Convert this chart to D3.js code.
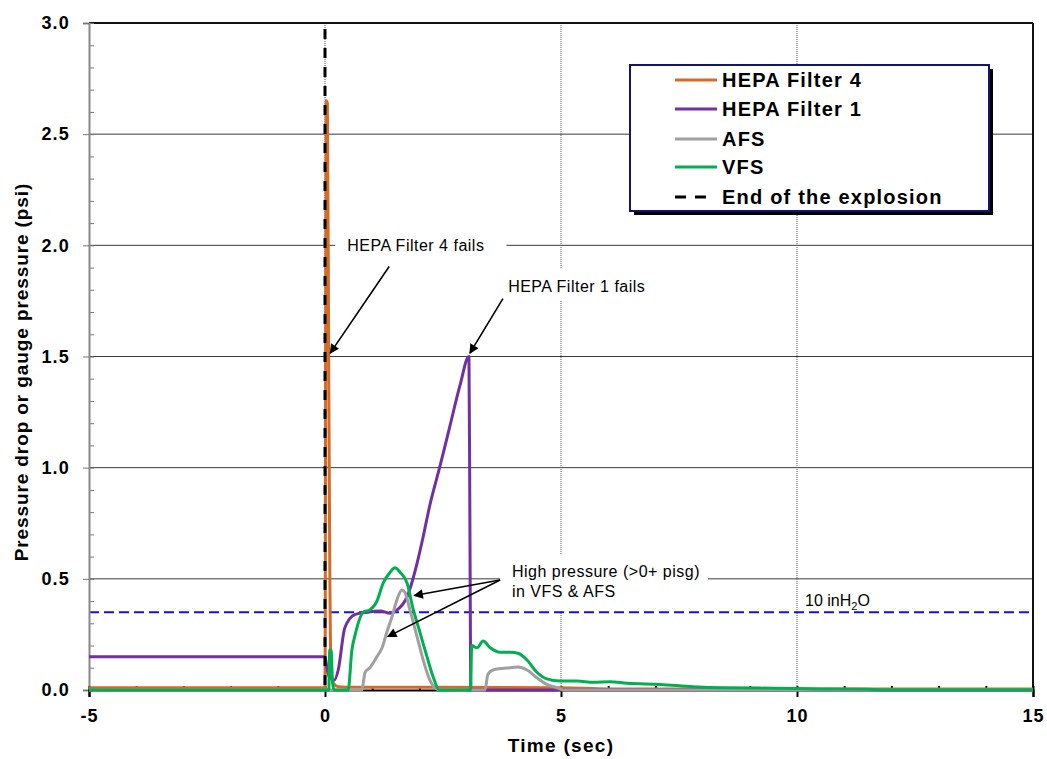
<!DOCTYPE html>
<html>
<head>
<meta charset="utf-8">
<script src="https://cdn.jsdelivr.net/npm/d3@7"></script>
<style>
  html, body { margin: 0; padding: 0; background: #fff; }
  svg { display: block; font-family: "Liberation Sans", Arial, sans-serif; }
</style>
</head>
<body>
<svg id="chart" width="1047" height="759"></svg>
<script>
// ---------------- DATA ----------------
const xTickValues = [-5, 0, 5, 10, 15];
const yTickValues = [0, 0.5, 1.0, 1.5, 2.0, 2.5, 3.0];

const hepa4Time = [-5, 0, 0.025, 0.05, 0.08, 0.1, 0.13, 0.18, 0.28, 0.6, 2, 5, 6, 15];
const hepa4Val  = [0.01, 0.01, 2.65, 2.64, 1.4, 0.6, 0.08, 0.03, 0.015, 0.012, 0.012, 0.01, 0.005, 0.005];

const hepa1Time = [-5, 0, 0.04, 0.1, 0.2, 0.28, 0.42, 0.64, 0.89, 1.17, 1.38, 1.53, 1.74, 1.95, 2.06, 2.22, 2.44, 2.65, 2.86, 3.05, 3.07, 3.09, 15];
const hepa1Val  = [0.15, 0.15, 0.10, 0.055, 0.045, 0.09, 0.28, 0.34, 0.35, 0.355, 0.345, 0.36, 0.42, 0.57, 0.67, 0.83, 1.01, 1.19, 1.37, 1.50, 0.75, 0.0, 0.0];

const afsTime = [-5, 0.78, 0.85, 0.95, 1.10, 1.21, 1.31, 1.42, 1.53, 1.63, 1.69, 1.80, 1.95, 2.08, 2.22, 2.33, 2.45, 3.39, 3.45, 3.56, 3.92, 4.09, 4.28, 4.49, 4.70, 4.92, 5.04, 15];
const afsVal  = [0, 0, 0.08, 0.10, 0.15, 0.19, 0.26, 0.33, 0.41, 0.45, 0.44, 0.36, 0.24, 0.135, 0.045, 0.01, 0, 0, 0.07, 0.09, 0.10, 0.103, 0.09, 0.055, 0.025, 0.01, 0, 0];

const vfsTime = [-5, 0.08, 0.1, 0.13, 0.16, 0.2, 0.49, 0.57, 0.64, 0.81, 0.95, 1.10, 1.23, 1.38, 1.48, 1.59, 1.74, 1.86, 2.01, 2.16, 2.29, 2.42, 3.08, 3.11, 3.22, 3.35, 3.5, 3.71, 3.92, 4.09, 4.28, 4.49, 4.70, 4.98, 5.34, 5.68, 6.04, 6.4, 7.1, 7.8, 8.5, 9.5, 10.5, 11.5, 12, 15];
const vfsVal  = [0, 0, 0.18, 0.18, 0.03, 0, 0, 0.18, 0.25, 0.35, 0.36, 0.40, 0.48, 0.53, 0.55, 0.53, 0.48, 0.37, 0.26, 0.15, 0.06, 0, 0, 0.20, 0.19, 0.22, 0.19, 0.17, 0.17, 0.165, 0.135, 0.08, 0.05, 0.04, 0.04, 0.035, 0.037, 0.03, 0.025, 0.015, 0.01, 0.008, 0.005, 0.003, 0, 0];

const explosionEndTime = 0;
const thresholdValue = 0.35;   // 10 inH2O

const seriesNames  = ["HEPA Filter 4", "HEPA Filter 1", "AFS", "VFS", "End of the explosion"];
const seriesColors = ["#D46B26", "#7030A0", "#A0A0A0", "#00B050", "#000000"];

// ---------------- SETUP ----------------
const svg = d3.select("#chart");
const x = d3.scaleLinear().domain([-5, 15]).range([89, 1033]);
const y = d3.scaleLinear().domain([0, 3]).range([690, 23]);

const FONT = '"Liberation Sans", Arial, sans-serif';

// grid lines (horizontal)
svg.append("g").selectAll("line").data(yTickValues.filter(v => v > 0 && v < 3)).join("line")
  .attr("x1", x(-5)).attr("x2", x(15)).attr("y1", d => y(d)).attr("y2", d => y(d))
  .attr("stroke", "#3a3a3a").attr("stroke-width", 1);

// vertical dotted grid lines
svg.append("g").selectAll("line").data([0, 5, 10]).join("line")
  .attr("x1", d => x(d)).attr("x2", d => x(d)).attr("y1", y(3)).attr("y2", y(0))
  .attr("stroke", "#555").attr("stroke-width", 1).attr("stroke-dasharray", "1,1");

// threshold line
svg.append("line")
  .attr("x1", x(-5)).attr("x2", x(15)).attr("y1", y(thresholdValue)).attr("y2", y(thresholdValue))
  .attr("stroke", "#1414CC").attr("stroke-width", 2).attr("stroke-dasharray", "10,5");

// top and right border
svg.append("line").attr("x1", x(-5)).attr("x2", x(15)).attr("y1", y(3)).attr("y2", y(3))
  .attr("stroke", "#111").attr("stroke-width", 2);
svg.append("line").attr("x1", x(15)).attr("x2", x(15)).attr("y1", y(3)).attr("y2", y(0))
  .attr("stroke", "#111").attr("stroke-width", 2);

// ---------------- SERIES ----------------
const line = d3.line().x(d => x(d[0])).y(d => y(d[1])).curve(d3.curveMonotoneX);
const zip = (a, b) => a.map((t, i) => [t, b[i]]);

const seriesData = [
  zip(hepa4Time, hepa4Val),
  zip(hepa1Time, hepa1Val),
  zip(afsTime, afsVal),
  zip(vfsTime, vfsVal)
];

// axes first (under the lines)
const yAxisMinor = d3.axisLeft(y).tickValues(d3.range(0, 31).map(i => i / 10)).tickSize(-5).tickFormat("");
svg.append("g").attr("transform", `translate(${x(-5)},0)`).call(yAxisMinor)
  .call(g => g.select(".domain").remove())
  .call(g => g.selectAll("line").attr("stroke", "#777"));

const yAxis = d3.axisLeft(y).tickValues(yTickValues).tickFormat(d3.format(".1f")).tickSize(6).tickPadding(13);
svg.append("g").attr("transform", `translate(${x(-5)},0)`).call(yAxis)
  .call(g => g.select(".domain").attr("stroke", "#888").attr("stroke-width", 2))
  .call(g => g.selectAll(".tick line").attr("stroke", "#777"))
  .call(g => g.selectAll("text").attr("font-family", FONT).attr("font-size", 18)
     .attr("font-weight", "bold").attr("fill", "#000").attr("letter-spacing", 1.2));

const xAxisMinor = d3.axisBottom(x).tickValues(d3.range(-5, 16)).tickSize(-4).tickFormat("");
svg.append("g").attr("transform", `translate(0,${y(0)})`).call(xAxisMinor)
  .call(g => g.select(".domain").remove())
  .call(g => g.selectAll("line").attr("stroke", "#000").attr("stroke-width", 2));

const xAxis = d3.axisBottom(x).tickValues(xTickValues).tickFormat(d => String(d)).tickSize(7).tickPadding(12);
svg.append("g").attr("transform", `translate(0,${y(0)})`).call(xAxis)
  .call(g => g.select(".domain").attr("stroke", "#000").attr("stroke-width", 2))
  .call(g => g.selectAll(".tick line").attr("stroke", "#000").attr("stroke-width", 2))
  .call(g => g.selectAll("text").attr("font-family", FONT).attr("font-size", 18)
     .attr("font-weight", "bold").attr("fill", "#000").attr("letter-spacing", 1));

svg.append("g").selectAll("path").data(seriesData).join("path")
  .attr("d", line)
  .attr("fill", "none")
  .attr("stroke", (d, i) => seriesColors[i])
  .attr("stroke-width", 3)
  .attr("stroke-linejoin", "round");

// end of explosion line
svg.append("line")
  .attr("x1", x(explosionEndTime)).attr("x2", x(explosionEndTime))
  .attr("y1", y(3)).attr("y2", y(0))
  .attr("stroke", "#000").attr("stroke-width", 3).attr("stroke-dasharray", "10,9")
  .attr("stroke-dashoffset", -6);

// ---------------- AXIS TITLES ----------------
svg.append("text").attr("x", x(5)).attr("y", 752).attr("text-anchor", "middle")
  .attr("font-family", FONT).attr("font-size", 19).attr("font-weight", "bold").attr("letter-spacing", 1.3)
  .text("Time (sec)");

svg.append("text").attr("transform", `translate(28,${y(1.43)}) rotate(-90)`).attr("text-anchor", "middle")
  .attr("font-family", FONT).attr("font-size", 19).attr("font-weight", "bold").attr("letter-spacing", 0.9)
  .text("Pressure drop or gauge pressure (psi)");

// ---------------- ANNOTATIONS ----------------
const defs = svg.append("defs");
defs.append("marker").attr("id", "arrow").attr("viewBox", "0 0 10 10")
  .attr("refX", 9).attr("refY", 5).attr("markerWidth", 7).attr("markerHeight", 6)
  .attr("markerUnits", "strokeWidth").attr("orient", "auto")
  .append("path").attr("d", "M0,0 L10,5 L0,10 z").attr("fill", "#000");

function label(lines, tx, ty, padL, padR, padT, padB) {
  const g = svg.append("g");
  const rect = g.append("rect").attr("fill", "#fff");
  const t = g.append("text").attr("font-family", FONT).attr("font-size", 16).attr("letter-spacing", 0.5).attr("fill", "#000");
  lines.forEach((s, i) => t.append("tspan").attr("x", x(tx)).attr("y", y(ty) + i * 20).text(s));
  const bb = t.node().getBBox();
  rect.attr("x", bb.x - padL).attr("y", bb.y - padT).attr("width", bb.width + padL + padR).attr("height", bb.height + padT + padB);
}
label(["HEPA Filter 4 fails"], 0.47, 1.975, 12, 22, 6, 6);
label(["HEPA Filter 1 fails"], 3.88, 1.79, 6, 6, 10, 6);
label(["High pressure (>0+ pisg)", "in VFS & AFS"], 3.96, 0.508, 12, 8, 8, 10);

const arrows = [
  [[1.36, 1.905], [0.11, 1.515]],
  [[3.77, 1.76], [3.07, 1.515]],
  [[3.71, 0.495], [1.89, 0.425]],
  [[3.71, 0.495], [1.33, 0.24]]
];
svg.append("g").selectAll("line").data(arrows).join("line")
  .attr("x1", d => x(d[0][0])).attr("y1", d => y(d[0][1]))
  .attr("x2", d => x(d[1][0])).attr("y2", d => y(d[1][1]))
  .attr("stroke", "#000").attr("stroke-width", 1.6).attr("marker-end", "url(#arrow)");

// 10 inH2O label
const th = svg.append("text").attr("x", x(10.17)).attr("y", y(thresholdValue) - 6)
  .attr("font-family", FONT).attr("font-size", 16).attr("fill", "#000");
th.append("tspan").text("10 inH");
th.append("tspan").attr("font-size", 11).attr("dy", 4).text("2");
th.append("tspan").attr("dy", -4).text("O");

// ---------------- LEGEND ----------------
const lg = svg.append("g").attr("transform", "translate(630,65)");
lg.append("rect").attr("x", 4).attr("y", 4).attr("width", 359).attr("height", 146).attr("fill", "#000");
lg.append("rect").attr("x", 0).attr("y", 0).attr("width", 359).attr("height", 146)
  .attr("fill", "#fff").attr("stroke", "#14146e").attr("stroke-width", 2);
const rows = [15, 44, 74, 102, 132];
seriesNames.forEach((name, i) => {
  const ly = rows[i];
  const ln = lg.append("line").attr("x1", 45).attr("x2", 87).attr("y1", ly).attr("y2", ly)
    .attr("stroke", seriesColors[i]).attr("stroke-width", 3);
  if (i === 4) ln.attr("stroke-dasharray", "11,9").attr("x1", 45).attr("x2", 78);
  lg.append("text").attr("x", 92).attr("y", ly).attr("dy", "0.36em")
    .attr("font-family", FONT).attr("font-size", 20).attr("font-weight", "bold").attr("letter-spacing", 1.2)
    .text(name);
});
</script>
</body>
</html>
